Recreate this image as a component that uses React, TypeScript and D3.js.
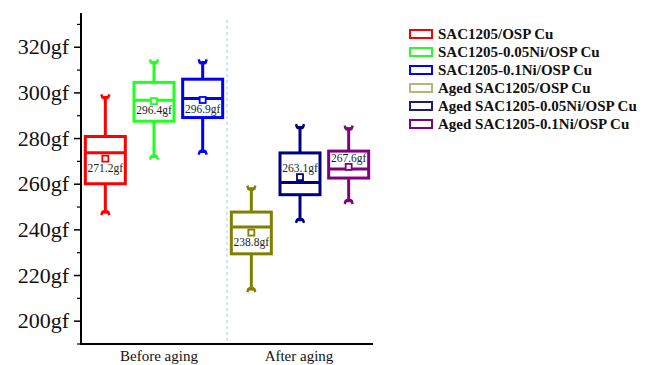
import React from 'react';
import * as d3 from 'd3';

// groups on the x axis
const groups = ['Before aging', 'After aging'];
const seriesNames = [
  'SAC1205/OSP Cu',
  'SAC1205-0.05Ni/OSP Cu',
  'SAC1205-0.1Ni/OSP Cu',
  'Aged SAC1205/OSP Cu',
  'Aged SAC1205-0.05Ni/OSP Cu',
  'Aged SAC1205-0.1Ni/OSP Cu'
];
const seriesGroup = [0, 0, 0, 1, 1, 1];
const whiskerLow = [247.3, 271.6, 273.8, 213.6, 243.9, 252.2];
const q1 = [260.2, 287.6, 289.2, 229.5, 255.4, 262.7];
const median = [273.8, 296.8, 297.6, 241.2, 260.8, 266.7];
const q3 = [280.9, 304.6, 306.0, 247.8, 273.7, 274.5];
const whiskerHigh = [298.5, 313.8, 313.8, 258.5, 285.4, 284.8];
const means = [271.2, 296.4, 296.9, 238.8, 263.1, 267.6];
const yTicks = [200, 220, 240, 260, 280, 300, 320];

const colors = ['#ff0000', '#22ff22', '#0000ff', '#808000', '#000080', '#800080'];
const legendColors = ['#ff0000', '#22ff22', '#0000ff', '#b8b47a', '#1c1c80', '#800080'];
// mean labels for the last two sit above the marker
const labelAbove = [false, false, false, false, true, true];
// group labels are not quite centred in the original
const groupLabelShift = [5, -1];

const Cap = ({ x, y, color, up }) => {
  // small forked cap on the whisker end
  const d = up ? 1 : -1;
  const path = `M${x - 4},${y - 2 * d} L${x - 3},${y + 1 * d} L${x + 3},${y + 1 * d} L${x + 4},${y - 2 * d}`;
  return (
    <g>
      <path d={path} fill="none" stroke={color} strokeWidth={2.5} />
      <rect x={x - 3} y={up ? y : y - 3} width={6} height={3} fill={color} />
    </g>
  );
};

export default function App() {
  const left = 81;
  const right = 373;
  const top = 13;
  const bottom = 344;

  const y = d3.scaleLinear().domain([190, 335]).range([bottom, top]);
  const x = d3.scaleBand().domain(groups).range([left, right]);
  const inner = d3.scalePoint().domain(d3.range(3)).range([0, x.bandwidth()]).padding(0.5);
  const boxW = 40;

  const cx = i => x(groups[seriesGroup[i]]) + inner(i % 3);
  const minorTicks = d3.range(190, 336, 10).filter(v => !yTicks.includes(v));
  const divider = x(groups[1]);

  return (
    <svg
      width={653}
      height={365}
      style={{ position: 'absolute', left: 0, top: 0, background: 'white', fontFamily: '"Liberation Serif", "Times New Roman", serif' }}
    >
      {/* divider between groups */}
      <line x1={divider} x2={divider} y1={20} y2={bottom} stroke="#a9c9e9" strokeWidth={1} strokeDasharray="3,3" />

      {/* boxes */}
      {seriesNames.map((name, i) => {
        const c = cx(i);
        const col = colors[i];
        const my = y(means[i]);
        return (
          <g key={name}>
            <line x1={c} x2={c} y1={y(whiskerHigh[i])} y2={y(q3[i])} stroke={col} strokeWidth={3} />
            <line x1={c} x2={c} y1={y(q1[i])} y2={y(whiskerLow[i])} stroke={col} strokeWidth={3} />
            <Cap x={c} y={y(whiskerHigh[i])} color={col} up={true} />
            <Cap x={c} y={y(whiskerLow[i])} color={col} up={false} />
            <rect
              x={c - boxW / 2}
              y={y(q3[i])}
              width={boxW}
              height={y(q1[i]) - y(q3[i])}
              fill="white"
              stroke={col}
              strokeWidth={3}
            />
            <line x1={c - boxW / 2} x2={c + boxW / 2} y1={y(median[i])} y2={y(median[i])} stroke={col} strokeWidth={3} />
            <rect x={c - 3} y={my - 3} width={6} height={6} fill="white" stroke={col} strokeWidth={1.8} />
            <text
              x={c}
              y={labelAbove[i] ? my - 5 : my + 13}
              textAnchor="middle"
              fontSize={11.5}
              fill="#222"
            >
              {means[i].toFixed(1)}gf
            </text>
          </g>
        );
      })}

      {/* y axis */}
      <line x1={left} x2={left} y1={top} y2={bottom + 1} stroke="#000" strokeWidth={2} />
      {yTicks.map(t => (
        <g key={t}>
          <line x1={left - 7} x2={left} y1={y(t)} y2={y(t)} stroke="#000" strokeWidth={1.5} />
          <text x={left - 12} y={y(t) + 7} textAnchor="end" fontSize={22} fill="#111">
            {t}gf
          </text>
        </g>
      ))}
      {minorTicks.map(t => (
        <line key={t} x1={left - 4} x2={left} y1={y(t)} y2={y(t)} stroke="#000" strokeWidth={1.2} />
      ))}

      {/* x axis */}
      <line x1={left - 1} x2={right} y1={bottom} y2={bottom} stroke="#000" strokeWidth={2} />
      {groups.map((g, gi) => (
        <text key={g} x={x(g) + x.bandwidth() / 2 + groupLabelShift[gi]} y={bottom + 17} textAnchor="middle" fontSize={15} fill="#111">
          {g}
        </text>
      ))}

      {/* legend */}
      {seriesNames.map((name, i) => (
        <g key={'lg' + name} transform={`translate(410, ${34 + i * 18})`}>
          <rect x={0} y={-4} width={22} height={8} fill="white" stroke={legendColors[i]} strokeWidth={2} />
          <text x={28} y={5} fontSize={15} fontWeight="bold" fill="#111">
            {name}
          </text>
        </g>
      ))}
    </svg>
  );
}
